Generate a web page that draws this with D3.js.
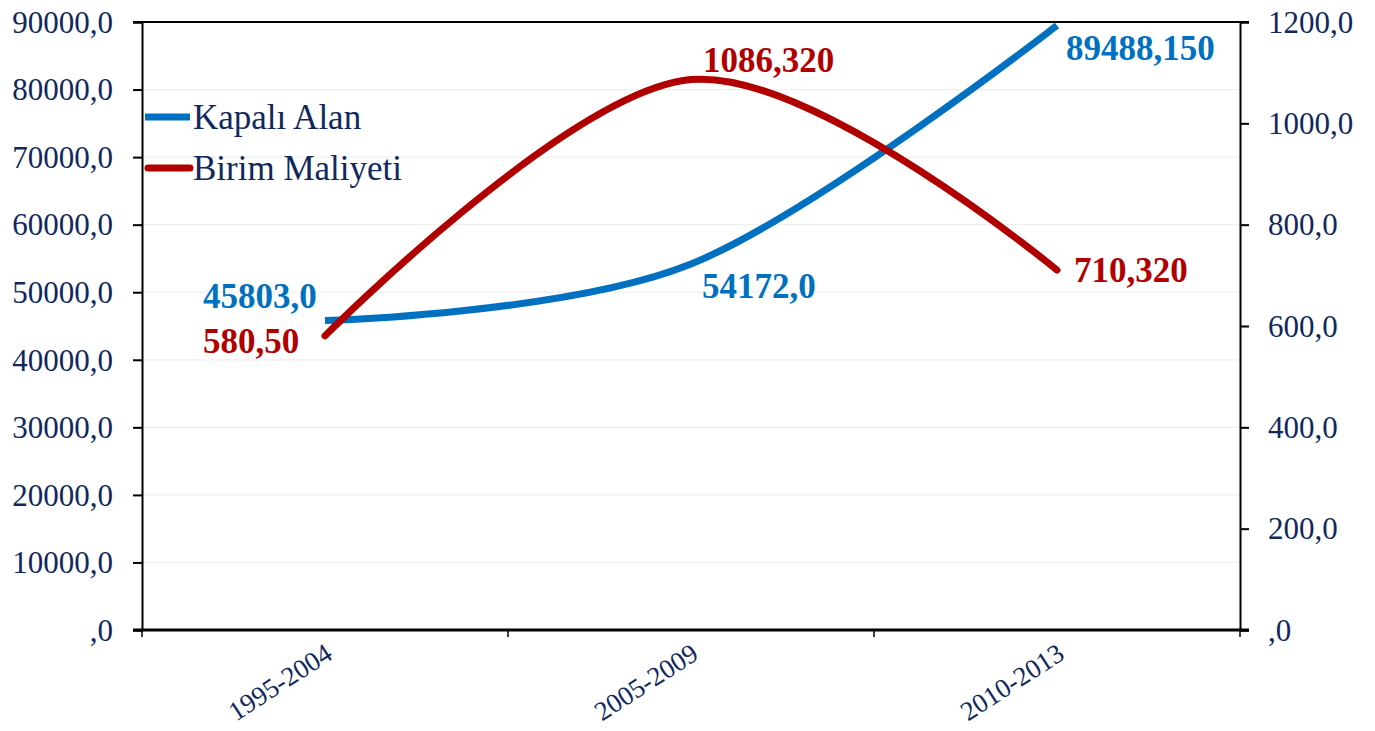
<!DOCTYPE html>
<html><head><meta charset="utf-8">
<script src="https://cdn.jsdelivr.net/npm/d3@7/dist/d3.min.js"></script>
<style>
html,body{margin:0;padding:0;background:#fff;}
svg{display:block;font-family:"Liberation Serif","Times New Roman",serif;}
svg text{font-family:"Liberation Serif","Times New Roman",serif;}
</style></head>
<body>
<svg id="chart" width="1375" height="731"></svg>
<script>
const categories = ["1995-2004", "2005-2009", "2010-2013"];
const kapaliAlan = [45803.0, 54172.0, 89488.150];
const birimMaliyeti = [580.50, 1086.320, 710.320];
const kapaliLabels = ["45803,0", "54172,0", "89488,150"];
const birimLabels = ["580,50", "1086,320", "710,320"];
const leftTicks = [0, 10000, 20000, 30000, 40000, 50000, 60000, 70000, 80000, 90000];
const rightTicks = [0, 200, 400, 600, 800, 1000, 1200];
const seriesNames = ["Kapalı Alan", "Birim Maliyeti"];

const BLUE = "#0070C0", RED = "#B00000", NAVY = "#10285e";
const L = 142, R = 1240, T = 22, B = 630;
const svg = d3.select("#chart");

const x = d3.scaleBand().domain(categories).range([L, R]);
const yL = d3.scaleLinear().domain([0, 90000]).range([B, T]);
const yR = d3.scaleLinear().domain([0, 1200]).range([B, T]);

const fmt = v => {
  const s = v.toFixed(1).replace(".", ",");
  return s.startsWith("0,") ? s.slice(1) : s;
};

// gridlines
svg.append("g").selectAll("line").data(leftTicks.slice(1, -1)).join("line")
  .attr("x1", L).attr("x2", R).attr("y1", d => yL(d)).attr("y2", d => yL(d))
  .attr("stroke", "#efefef").attr("stroke-width", 1.2);

// left axis
const gL = svg.append("g").attr("transform", `translate(${L},0)`)
  .call(d3.axisLeft(yL).tickValues(leftTicks).tickFormat(fmt).tickSize(9).tickPadding(20));
// right axis
const gR = svg.append("g").attr("transform", `translate(${R},0)`)
  .call(d3.axisRight(yR).tickValues(rightTicks).tickFormat(fmt).tickSize(9).tickPadding(19));
[gL, gR].forEach(g => {
  g.attr("font-family", null);
  g.select(".domain").attr("stroke", "#000").attr("stroke-width", 2);
  g.selectAll(".tick line").attr("stroke", "#000").attr("stroke-width", 2);
  g.selectAll(".tick text").attr("fill", NAVY).attr("font-size", 31).attr("dy", "0.33em");
});

// top border
svg.append("line").attr("x1", L - 9).attr("x2", R + 9).attr("y1", T).attr("y2", T)
  .attr("stroke", "#000").attr("stroke-width", 2);

// bottom axis
const bounds = categories.map(c => x(c)).concat([R]);
svg.append("line").attr("x1", L - 9).attr("x2", R + 9).attr("y1", B).attr("y2", B)
  .attr("stroke", "#000").attr("stroke-width", 3);
svg.append("g").selectAll("line").data(bounds).join("line")
  .attr("x1", d => d).attr("x2", d => d).attr("y1", B).attr("y2", B + 7)
  .attr("stroke", "#000").attr("stroke-width", 1.5);
svg.append("g").selectAll("text").data(categories).join("text")
  .attr("transform", d => `translate(${x(d) + x.bandwidth() / 2 + 4},${B + 20}) rotate(-33)`)
  .attr("text-anchor", "end").attr("dy", "0.35em")
  .attr("fill", NAVY).attr("font-size", 27).text(d => d);

// lines
const cx = d => x(d) + x.bandwidth() / 2;
const curve = d3.curveCardinal.tension(0);
const lineL = d3.line().x((d, i) => cx(categories[i])).y(d => yL(d)).curve(curve);
const lineR = d3.line().x((d, i) => cx(categories[i])).y(d => yR(d)).curve(curve);

svg.append("path").attr("d", lineL(kapaliAlan)).attr("fill", "none")
  .attr("stroke", BLUE).attr("stroke-width", 7).attr("stroke-linecap", "butt");
svg.append("path").attr("d", lineR(birimMaliyeti)).attr("fill", "none")
  .attr("stroke", RED).attr("stroke-width", 7).attr("stroke-linecap", "round");

// data labels
const blueOff = [[-122, -13], [11, 34], [9, 35]];
const redOff = [[-122, 17], [12, -8], [17, 12]];
svg.append("g").selectAll("text").data(kapaliAlan).join("text")
  .attr("x", (d, i) => cx(categories[i]) + blueOff[i][0])
  .attr("y", (d, i) => yL(d) + blueOff[i][1])
  .attr("fill", BLUE).attr("font-size", 35).attr("font-weight", "bold")
  .text((d, i) => kapaliLabels[i]);
svg.append("g").selectAll("text").data(birimMaliyeti).join("text")
  .attr("x", (d, i) => cx(categories[i]) + redOff[i][0])
  .attr("y", (d, i) => yR(d) + redOff[i][1])
  .attr("fill", RED).attr("font-size", 35).attr("font-weight", "bold")
  .text((d, i) => birimLabels[i]);

// legend
const legend = svg.append("g");
const legY = [117, 168];
legend.selectAll("line").data(seriesNames).join("line")
  .attr("x1", (d, i) => i === 0 ? 145 : 148).attr("x2", 190)
  .attr("y1", (d, i) => legY[i]).attr("y2", (d, i) => legY[i])
  .attr("stroke", (d, i) => i === 0 ? BLUE : RED).attr("stroke-width", 7)
  .attr("stroke-linecap", (d, i) => i === 0 ? "butt" : "round");
legend.selectAll("text").data(seriesNames).join("text")
  .attr("x", 193).attr("y", (d, i) => legY[i] + 12)
  .attr("fill", NAVY).attr("font-size", 35).text(d => d);
</script>
</body></html>
